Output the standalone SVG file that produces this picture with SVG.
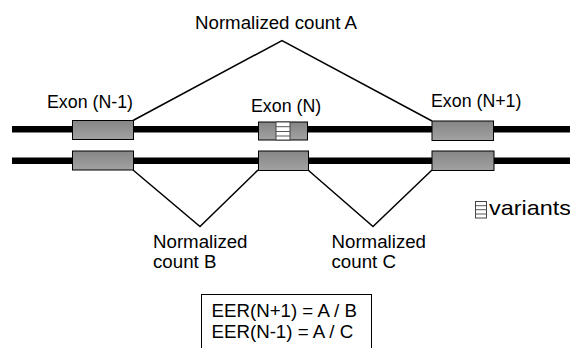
<svg xmlns="http://www.w3.org/2000/svg" width="570" height="348" viewBox="0 0 570 348">
<defs>
<linearGradient id="exg" x1="0" y1="0" x2="0" y2="1">
<stop offset="0" stop-color="#858585"/>
<stop offset="1" stop-color="#a2a2a2"/>
</linearGradient>
<style>
text{font-family:"Liberation Sans",Arial,sans-serif;fill:#000}
.lbl{font-size:18.7px}
.ex{font-size:17.8px}
.track{stroke:#000;stroke-width:6.5;fill:none}
.exon{fill:url(#exg);stroke:#000;stroke-width:1}
.conn{stroke:#000;stroke-width:1.5;fill:none;stroke-linejoin:miter}
.var{fill:#fff;stroke:#444;stroke-width:1}
.varl{stroke:#555;stroke-width:1}
</style>
</defs>
<rect width="570" height="348" fill="#fff"/>
<g id="tracks">
<line class="track" x1="12" y1="129.3" x2="570" y2="129.3"/>
<line class="track" x1="12" y1="160.8" x2="570" y2="160.8"/>
</g>
<g id="connectors">
<polyline class="conn" points="133,120.5 282,40.5 432,121"/>
<polyline class="conn" points="133,170 200,226.5 258,170"/>
<polyline class="conn" points="308,170 373,226.5 432,170"/>
</g>
<g id="exon-n-1">
<rect class="exon" x="72.5" y="120.5" width="61" height="19"/>
<rect class="exon" x="72.5" y="151" width="61" height="19"/>
<text class="ex" x="47" y="107.5">Exon (N-1)</text>
</g>
<g id="exon-n">
<rect class="exon" x="258.5" y="122" width="49" height="18"/>
<rect class="var" x="276" y="122" width="14" height="18"/>
<line class="varl" x1="276" y1="126.7" x2="290" y2="126.7"/>
<line class="varl" x1="276" y1="131.5" x2="290" y2="131.5" stroke="#222"/>
<line class="varl" x1="276" y1="136" x2="290" y2="136"/>
<rect class="exon" x="258.5" y="151" width="50" height="19.5"/>
<text class="ex" x="251" y="111.5">Exon (N)</text>
</g>
<g id="exon-n1">
<rect class="exon" x="432" y="121" width="61.5" height="19.5"/>
<rect class="exon" x="432" y="151" width="62" height="19.5"/>
<text class="ex" x="431" y="107">Exon (N+1)</text>
</g>
<g id="count-a">
<text class="lbl" x="195" y="29.3">Normalized count A</text>
</g>
<g id="count-b">
<text class="lbl" x="153" y="248.3">Normalized</text>
<text class="lbl" x="153" y="268.3">count B</text>
</g>
<g id="count-c">
<text class="lbl" x="331.5" y="248.3">Normalized</text>
<text class="lbl" x="331.5" y="268.3">count C</text>
</g>
<g id="legend">
<rect class="var" x="475.5" y="201.5" width="11" height="16.5"/>
<line class="varl" x1="475.5" y1="205.7" x2="486.5" y2="205.7"/>
<line class="varl" x1="475.5" y1="209.7" x2="486.5" y2="209.7" stroke="#222"/>
<line class="varl" x1="475.5" y1="214" x2="486.5" y2="214"/>
<text x="489" y="214.5" style="font-size:21px" textLength="82" lengthAdjust="spacingAndGlyphs">variants</text>
</g>
<g id="eer">
<rect x="201.5" y="294.5" width="170" height="60" fill="#fff" stroke="#000" stroke-width="1"/>
<text class="lbl" x="211.5" y="317">EER(N+1) = A / B</text>
<text class="lbl" x="211.5" y="338.3">EER(N-1) = A / C</text>
</g>
</svg>
